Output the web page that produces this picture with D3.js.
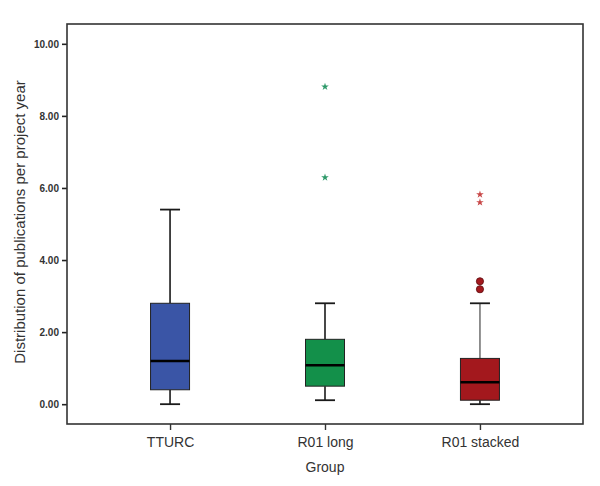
<!DOCTYPE html>
<html>
<head>
<meta charset="utf-8">
<script src="https://cdn.jsdelivr.net/npm/d3@7"></script>
<style>
  body { margin: 0; background: #fff; }
  text { font-family: "Liberation Sans", Arial, sans-serif; }
</style>
</head>
<body>
<div id="chart"></div>
<script>
// data
var groups = ["TTURC", "R01 long", "R01 stacked"];
var whiskerLow = [0, 0.11, 0];
var q1 = [0.4, 0.5, 0.11];
var median = [1.2, 1.08, 0.61];
var q3 = [2.8, 1.8, 1.27];
var whiskerHigh = [5.4, 2.8, 2.8];
var outliers = [[], [], [3.19, 3.41]];   // circles
var extremes = [[], [6.29, 8.81], [5.6, 5.82]];   // stars
var yTicks = [0, 2, 4, 6, 8, 10];

// styles
var boxFill = ["#3a55a6", "#13904a", "#a3181d"];
var starFill = ["#2f9a6a", "#2f9a6a", "#c84848"];
var whiskerStroke = ["#1a1a1a", "#1a1a1a", "#777"];

var svgWidth = 600;
var svgHeight = 486;

var margin = { top: 24, right: 17, bottom: 62, left: 67 };
var chartWidth = svgWidth - margin.left - margin.right;
var chartHeight = svgHeight - margin.top - margin.bottom;

var svg = d3.select("#chart")
  .append("svg")
  .attr("width", svgWidth)
  .attr("height", svgHeight);

var chartGroup = svg.append("g")
  .attr("transform", `translate(${margin.left}, ${margin.top})`);

var xScale = d3.scalePoint()
  .domain(groups)
  .range([0, chartWidth])
  .padding(0.665);

var yScale = d3.scaleLinear()
  .domain([-0.55, 10.55])
  .range([chartHeight, 0]);

// axes
var leftAxis = d3.axisLeft(yScale)
  .tickValues(yTicks)
  .tickSize(5)
  .tickPadding(3)
  .tickFormat(d3.format(".2f"));

var bottomAxis = d3.axisBottom(xScale)
  .tickSize(6)
  .tickPadding(7);

var yAxis = chartGroup.append("g").call(leftAxis);
yAxis.select(".domain").remove();
yAxis.selectAll("line").attr("stroke", "#222").attr("stroke-width", 1.6);
yAxis.selectAll("text")
  .attr("font-size", 10)
  .attr("font-weight", "bold")
  .attr("fill", "#333")
  .attr("font-family", "Liberation Sans, Arial, sans-serif");

var xAxis = chartGroup.append("g")
  .attr("transform", `translate(0, ${chartHeight})`)
  .call(bottomAxis);
xAxis.select(".domain").remove();
xAxis.selectAll("line").attr("stroke", "#333").attr("stroke-width", 1.4);
xAxis.selectAll("text")
  .attr("font-size", 14)
  .attr("fill", "#333")
  .attr("font-family", "Liberation Sans, Arial, sans-serif");

// frame
chartGroup.append("rect")
  .attr("x", 0)
  .attr("y", 0)
  .attr("width", chartWidth)
  .attr("height", chartHeight)
  .attr("fill", "none")
  .attr("stroke", "#333")
  .attr("stroke-width", 1.6);

var boxWidth = 39;
var capWidth = 20;

var boxes = chartGroup.selectAll(".box")
  .data(groups)
  .enter()
  .append("g")
  .attr("class", "box");

// whiskers
boxes.append("line")
  .attr("x1", d => xScale(d))
  .attr("x2", d => xScale(d))
  .attr("y1", (d, i) => yScale(whiskerHigh[i]))
  .attr("y2", (d, i) => yScale(q3[i]))
  .attr("stroke", (d, i) => whiskerStroke[i])
  .attr("stroke-width", 1.6);

boxes.append("line")
  .attr("x1", d => xScale(d))
  .attr("x2", d => xScale(d))
  .attr("y1", (d, i) => yScale(q1[i]))
  .attr("y2", (d, i) => yScale(whiskerLow[i]))
  .attr("stroke", "#1a1a1a")
  .attr("stroke-width", 1.6);

// caps
boxes.append("line")
  .attr("x1", d => xScale(d) - capWidth / 2)
  .attr("x2", d => xScale(d) + capWidth / 2)
  .attr("y1", (d, i) => yScale(whiskerHigh[i]))
  .attr("y2", (d, i) => yScale(whiskerHigh[i]))
  .attr("stroke", "#1a1a1a")
  .attr("stroke-width", 1.8);

boxes.append("line")
  .attr("x1", d => xScale(d) - capWidth / 2)
  .attr("x2", d => xScale(d) + capWidth / 2)
  .attr("y1", (d, i) => yScale(whiskerLow[i]))
  .attr("y2", (d, i) => yScale(whiskerLow[i]))
  .attr("stroke", "#1a1a1a")
  .attr("stroke-width", 1.8);

// box
boxes.append("rect")
  .attr("x", d => xScale(d) - boxWidth / 2)
  .attr("y", (d, i) => yScale(q3[i]))
  .attr("width", boxWidth)
  .attr("height", (d, i) => yScale(q1[i]) - yScale(q3[i]))
  .attr("fill", (d, i) => boxFill[i])
  .attr("stroke", "#222")
  .attr("stroke-width", 1);

// median
boxes.append("line")
  .attr("x1", d => xScale(d) - boxWidth / 2)
  .attr("x2", d => xScale(d) + boxWidth / 2)
  .attr("y1", (d, i) => yScale(median[i]))
  .attr("y2", (d, i) => yScale(median[i]))
  .attr("stroke", "#000")
  .attr("stroke-width", 2.5);

// outlier circles and extreme stars
groups.forEach(function(g, i) {
  chartGroup.selectAll(null)
    .data(outliers[i])
    .enter()
    .append("circle")
    .attr("cx", xScale(g))
    .attr("cy", d => yScale(d))
    .attr("r", 3.6)
    .attr("fill", boxFill[i])
    .attr("stroke", "#5a0a0c")
    .attr("stroke-width", 0.8);

  chartGroup.selectAll(null)
    .data(extremes[i])
    .enter()
    .append("path")
    .attr("transform", d => `translate(${xScale(g)}, ${yScale(d)})`)
    .attr("d", d3.symbol().type(d3.symbolStar).size(18))
    .attr("fill", starFill[i]);
});

// axis titles
svg.append("text")
  .attr("transform", `translate(25, 222) rotate(-90)`)
  .attr("text-anchor", "middle")
  .attr("font-size", 15)
  .attr("fill", "#333")
  .text("Distribution of publications per project year");

svg.append("text")
  .attr("x", margin.left + xScale("R01 long"))
  .attr("y", 472)
  .attr("text-anchor", "middle")
  .attr("font-size", 14)
  .attr("fill", "#333")
  .text("Group");
</script>
</body>
</html>
